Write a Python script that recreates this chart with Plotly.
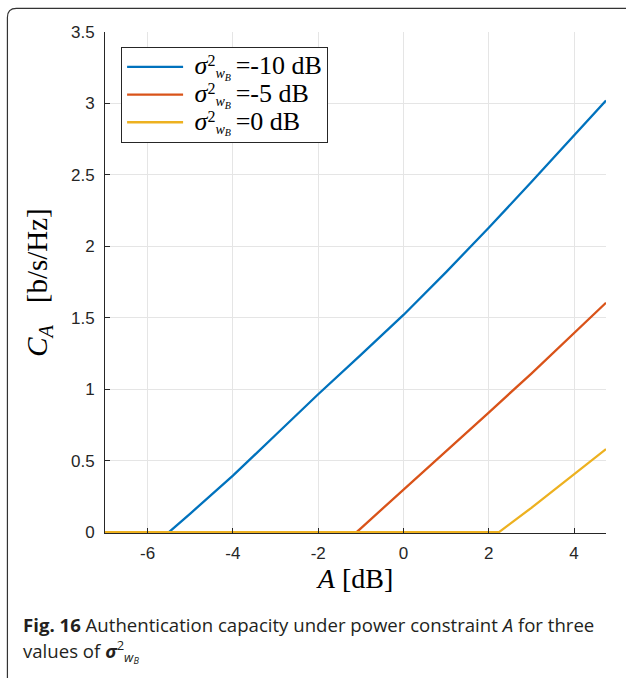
import plotly.graph_objects as go

# ---- data ----
x_blue = [-7, -5.5, -5, -4, -3, -2, -1, 0, 1, 2, 3, 4, 4.75]
y_blue = [0, 0, 0.13, 0.395, 0.68, 0.965, 1.24, 1.52, 1.82, 2.13, 2.45, 2.78, 3.02]

x_red = [-7, -1.1, -1, 0, 1, 2, 3, 4, 4.75]
y_red = [0, 0, 0.027, 0.297, 0.56, 0.837, 1.11, 1.396, 1.605]

x_yel = [-7, 2.24, 3, 4, 4.75]
y_yel = [0, 0, 0.17, 0.407, 0.581]

names = ["-10 dB", "-5 dB", "0 dB"]
colors = ["#0072BD", "#D95319", "#EDB120"]
x_ticks = [-6, -4, -2, 0, 2, 4]
y_ticks = [0, 0.5, 1, 1.5, 2, 2.5, 3, 3.5]

sig = ("<span style='font-size:26px'> <i>σ</i></span>"
       "<sup><span style='font-size:16px'>2</span></sup>"
       "<sub><span style='font-size:14px'><i>w</i></span>"
       "<sub><span style='font-size:10px'><i>B</i></span></sub></sub>")

fig = go.Figure()
for xs, ys, nm, c in zip([x_blue, x_red, x_yel], [y_blue, y_red, y_yel], names, colors):
    fig.add_trace(go.Scatter(x=xs, y=ys, mode="lines",
                             name=f"{sig} <span style='font-size:26px'>={nm}</span>",
                             line=dict(color=c, width=2.3)))

W, H = 626, 678
L, R, T, B = 104.6, 605.7, 31.7, 533.3
pw, ph = R - L, B - T

def px(x):
    return (x - L) / pw

def py(y):
    return (B - y) / ph

tickfont = dict(family="Liberation Sans, Arial, sans-serif", size=17, color="#262626")
axis_common = dict(showgrid=True, gridcolor="#e5e5e5", gridwidth=1, zeroline=False,
                   showline=True, linecolor="#262626", linewidth=1, automargin=False,
                   ticks="inside", ticklen=5, tickcolor="#262626", tickfont=tickfont)

fig.update_layout(
    width=W, height=H,
    margin=dict(l=L, r=W - R, t=T, b=H - B, pad=0, autoexpand=False),
    paper_bgcolor="white", plot_bgcolor="white",
    showlegend=True,
    legend=dict(x=px(120.7), y=py(46.7), xanchor="left", yanchor="top",
                bgcolor="white", bordercolor="#262626", borderwidth=1,
                font=dict(family="Liberation Serif, serif", size=19, color="#000"),
                tracegroupgap=0, itemwidth=56),
    xaxis=dict(range=[-7, 4.75], tickvals=x_ticks, ticktext=[str(v) for v in x_ticks],
               ticklabelstandoff=5,
               title=dict(text="<i>A</i> [dB]", standoff=4,
                          font=dict(family="Liberation Serif, serif", size=28, color="#000")),
               **axis_common),
    yaxis=dict(range=[-0.006, 3.5], tickvals=y_ticks, ticktext=[f"{v:g}" for v in y_ticks],
               ticklabelstandoff=6,
               title=dict(text="<i>C<sub>A</sub></i>   [b/s/Hz]", standoff=14,
                          font=dict(family="Liberation Serif, serif", size=29, color="#000")),
               **axis_common),
)

# card border (rounded top-left corner), extending beyond the image on right/bottom
x0, y0 = px(7), py(8)
x1, y1 = px(660), py(720)
rx, ry = 9 / pw, 9 / ph
path = (f"M {x0},{y1} L {x0},{y0 - ry} Q {x0},{y0} {x0 + rx},{y0} L {x1},{y0}")
fig.add_shape(type="path", xref="paper", yref="paper", path=path,
              line=dict(color="#333333", width=1.2))

capfont = dict(family="Open Sans, sans-serif", size=18.6, color="#231f20")
fig.add_annotation(xref="paper", yref="paper", x=px(21), y=py(625), xanchor="left", yanchor="middle",
                   showarrow=False, align="left", font=capfont,
                   text="<b>Fig. 16</b> Authentication capacity under power constraint <i>A</i> for three")
fig.add_annotation(xref="paper", yref="paper", x=px(21), y=py(652), xanchor="left", yanchor="middle",
                   showarrow=False, align="left", font=capfont,
                   text="values of <b><i>σ</i></b><sup>2</sup><sub><i>w</i><sub><i>B</i></sub></sub>")

fig.write_html("out.html", config={"displayModeBar": False},
               post_script="document.body.style.margin='0';document.body.style.overflow='hidden';")
